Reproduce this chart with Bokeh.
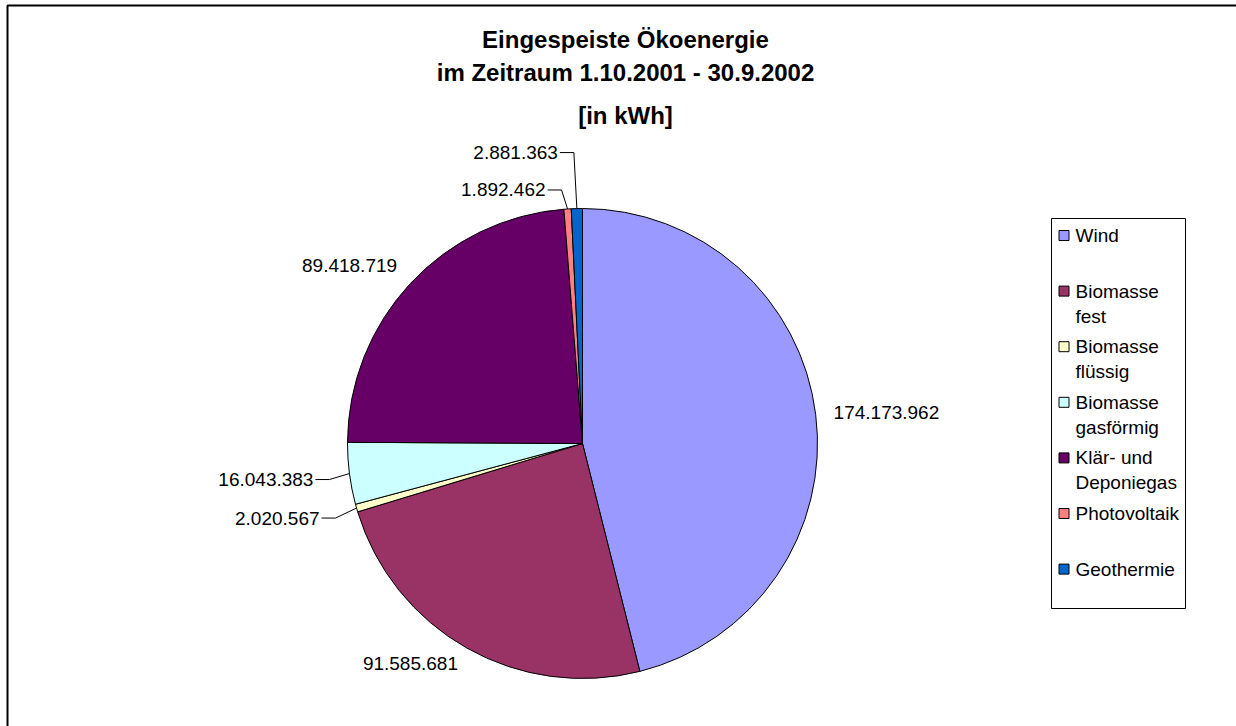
import math
from bokeh.plotting import figure
from bokeh.models import ColumnDataSource, Range1d
from bokeh.core.properties import value
from bokeh.embed import file_html
from bokeh.resources import INLINE

W, H = 1236, 726

# ---------------- data ----------------
categories = ["Wind", "Biomasse fest", "Biomasse flüssig", "Biomasse gasförmig",
              "Klär- und Deponiegas", "Photovoltaik", "Geothermie"]
values = [174173962, 91585681, 2020567, 16043383, 89418719, 1892462, 2881363]
legend_labels = ["Wind", "Biomasse\nfest", "Biomasse\nflüssig", "Biomasse\ngasförmig",
                 "Klär- und\nDeponiegas", "Photovoltaik", "Geothermie"]
colors = ["#9999FF", "#993366", "#FFFFCC", "#CCFFFF", "#660066", "#FF8080", "#0066CC"]
title_lines = ["Eingespeiste Ökoenergie", "im Zeitraum 1.10.2001 - 30.9.2002", "[in kWh]"]

# ---------------- layout ----------------
FONT = "Liberation Sans"


def sy(y):
    """screen y (down) -> data y (up)"""
    return H - y


CX, CY, R = 582, sy(443), 235
LABEL_R = 253
# labels that were dragged aside with leader lines: offset of label end from slice edge (screen px)
leader_nudge = {2: (-37, 10), 3: (-36, 6), 5: (-22, -19), 6: (-19, -56)}
# small vertical tweaks of plain labels (screen px, down positive)
label_dy = {4: -6}

p = figure(width=W, height=H, x_range=Range1d(0, W), y_range=Range1d(0, H),
           x_axis_type=None, y_axis_type=None, output_backend="svg",
           toolbar_location=None, min_border=0)
p.outline_line_color = None
p.background_fill_color = "white"
p.border_fill_color = "white"

# chart border
p.line(x=[7, 7, W + 10], y=[sy(H + 10), sy(5), sy(5)], line_color="black", line_width=2)

# ---------------- pie ----------------
total = float(sum(values))
starts, ends, mids = [], [], []
cum = 0.0
for v in values:
    f0 = cum / total
    cum += v
    f1 = cum / total
    starts.append(math.pi / 2 - 2 * math.pi * f1)
    ends.append(math.pi / 2 - 2 * math.pi * f0)
    mids.append(2 * math.pi * (f0 + f1) / 2)  # clockwise from 12 o'clock

src = ColumnDataSource(dict(start=starts, end=ends, color=colors, cat=categories))
p.wedge(x=CX, y=CY, radius=R, start_angle="start", end_angle="end",
        direction="anticlock", fill_color="color", line_color="black",
        line_width=1, source=src)

# ---------------- data labels ----------------
def fmt(v):
    return f"{v:,}".replace(",", ".")

lx_l, ly_l, tx_l = [], [], []
lx_r, ly_r, tx_r = [], [], []
lead_xs, lead_ys = [], []
for i, v in enumerate(values):
    th = mids[i]
    s, c = math.sin(th), math.cos(th)
    if i in leader_nudge:
        ex, ey = CX + R * s, CY + R * c
        dx, dy = leader_nudge[i]
        lx, ly = ex + dx, ey - dy
        lx_r.append(lx); ly_r.append(ly); tx_r.append(fmt(v))
        lead_xs.append([lx + 2, lx + 16, ex])
        lead_ys.append([ly, ly, ey])
    else:
        ax, ay = CX + LABEL_R * s, CY + LABEL_R * c - label_dy.get(i, 0)
        if s >= 0:
            lx_l.append(ax); ly_l.append(ay); tx_l.append(fmt(v))
        else:
            lx_r.append(ax); ly_r.append(ay); tx_r.append(fmt(v))

p.multi_line(xs=lead_xs, ys=lead_ys, line_color="black", line_width=1)
p.text(x=lx_l, y=ly_l, text=tx_l, text_align="left", text_baseline="middle",
       text_font=value(FONT), text_font_size="19px", text_color="black")
p.text(x=lx_r, y=ly_r, text=tx_r, text_align="right", text_baseline="middle",
       text_font=value(FONT), text_font_size="19px", text_color="black")

# ---------------- title ----------------
TITLE_X = 625
title_y = [39, 72, 115]
p.text(x=[TITLE_X] * len(title_lines), y=[sy(y) for y in title_y], text=title_lines,
       text_align="center", text_baseline="middle", text_font=value(FONT),
       text_font_size="24px", text_font_style="bold", text_color="black")

# ---------------- legend ----------------
LEG_L, LEG_R, LEG_T, LEG_B = 1051, 1185, 218, 608
LEG_FIRST, LEG_STEP, LEG_LINE = 235, 55.6, 25
p.quad(left=[LEG_L], right=[LEG_R], top=[sy(LEG_T)], bottom=[sy(LEG_B)],
       fill_color=None, line_color="black", line_width=1)
sq_x, sq_y, lt_x, lt_y, lt_t = [], [], [], [], []
for i, lab in enumerate(legend_labels):
    y0 = LEG_FIRST + LEG_STEP * i
    sq_x.append(1063.5); sq_y.append(sy(y0))
    for j, line in enumerate(lab.split("\n")):
        lt_x.append(1075); lt_y.append(sy(y0 + j * LEG_LINE)); lt_t.append(line)
p.rect(x=sq_x, y=sq_y, width=10, height=10, fill_color=colors, line_color="black", line_width=1)
p.text(x=lt_x, y=lt_y, text=lt_t, text_align="left", text_baseline="middle",
       text_font=value(FONT), text_font_size="19px", text_color="black")

open("out.html", "w").write(file_html(p, INLINE))
